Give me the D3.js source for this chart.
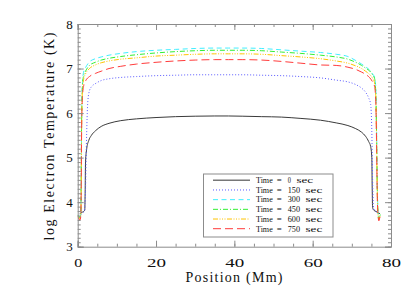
<!DOCTYPE html>
<html><head><meta charset="utf-8">
<script src="https://cdn.jsdelivr.net/npm/d3@7"></script>
<style>html,body{margin:0;padding:0;background:#fff;}svg{display:block;}</style>
</head><body>
<script>
// ---- data ----
const seriesLabels = ["0", "150", "300", "450", "600", "750"];
const xTicks = [0, 20, 40, 60, 80];
const yTicks = [3, 4, 5, 6, 7, 8];

const pos0 = [0.5,1.0,1.5,1.8,1.9,2.0,2.3,2.8,3.5,4.5,6,8,11,15,20,25,30,35,38.5,42,47,52,57,62,66,69,71,72.5,73.5,74.3,74.8,75.1,75.2,75.3,75.6,76.2,76.8,77.2];
const temp0 = [3.74,3.77,3.79,3.82,4.2,4.9,5.2,5.38,5.5,5.6,5.7,5.77,5.83,5.87,5.9,5.92,5.93,5.935,5.935,5.93,5.92,5.91,5.88,5.84,5.78,5.72,5.65,5.57,5.48,5.36,5.25,5.0,4.3,3.88,3.82,3.79,3.76,3.74];

const pos150 = [0.8,1.3,1.7,2.0,2.2,2.4,2.6,3.0,3.6,4.5,6,8,11,15,20,25,30,35,38.5,42,47,52,57,62,66,69,71,72.5,73.5,74.3,74.8,75.1,75.3,75.6,76.2,76.8];
const temp150 = [3.72,3.76,3.8,4.3,5.2,5.9,6.28,6.5,6.6,6.66,6.73,6.77,6.8,6.82,6.84,6.85,6.86,6.86,6.86,6.86,6.85,6.84,6.82,6.79,6.74,6.7,6.64,6.56,6.47,6.34,6.2,5.6,4.5,3.85,3.78,3.74];

const posHot = [0,0.35,0.6,0.8,0.9,1.0,1.2,1.5,2,3,4.5,6,8,11,15,20,25,30,35,38.5,42,47,52,57,62,66,69,71,72.5,73.5,74.5,75.3,75.8,76.1,76.3,76.5,76.7,76.9,77.1,77.3];
const temp300 = [3.72,3.68,3.67,3.75,4.5,5.8,6.65,6.92,7.02,7.15,7.22,7.26,7.3,7.34,7.38,7.41,7.43,7.45,7.46,7.46,7.46,7.45,7.42,7.39,7.36,7.32,7.27,7.18,7.1,7.04,6.97,6.88,6.8,6.6,5.8,4.4,3.78,3.63,3.68,3.73];
const temp450 = [3.71,3.67,3.65,3.74,4.5,5.8,6.58,6.84,6.94,7.07,7.14,7.19,7.23,7.27,7.31,7.35,7.38,7.4,7.41,7.41,7.41,7.4,7.37,7.34,7.3,7.26,7.21,7.14,7.07,7.01,6.95,6.86,6.78,6.5,5.6,4.3,3.74,3.62,3.67,3.72];
const temp600 = [3.7,3.65,3.63,3.72,4.4,5.7,6.5,6.75,6.88,7.0,7.08,7.13,7.17,7.21,7.24,7.28,7.3,7.32,7.33,7.33,7.33,7.32,7.29,7.26,7.22,7.17,7.12,7.06,7.0,6.94,6.87,6.78,6.68,6.4,5.5,4.2,3.72,3.6,3.66,3.72];
const temp750 = [3.68,3.62,3.6,3.7,4.3,5.6,6.35,6.6,6.72,6.82,6.89,6.94,7.0,7.05,7.1,7.14,7.17,7.19,7.2,7.2,7.2,7.19,7.16,7.12,7.08,7.07,7.03,6.98,6.92,6.87,6.8,6.7,6.6,6.3,5.4,4.1,3.7,3.58,3.64,3.7];

const series = [
  {label: seriesLabels[0], x: pos0,   y: temp0,   color: "#3a3a3a", dash: null},
  {label: seriesLabels[1], x: pos150, y: temp150, color: "#5a5aff", dash: "1,2"},
  {label: seriesLabels[2], x: posHot, y: temp300, color: "#40eeff", dash: "5,3.5"},
  {label: seriesLabels[3], x: posHot, y: temp450, color: "#33ee33", dash: "5,2,1,2"},
  {label: seriesLabels[4], x: posHot, y: temp600, color: "#ffc400", dash: "5,1.5,1,1.5,1,1.5,1,1.5"},
  {label: seriesLabels[5], x: posHot, y: temp750, color: "#ff3c3c", dash: "8,4"}
];

// ---- layout ----
const W = 415, H = 297;
const L = 77.7, R = 391, T = 24, B = 246.7;
const axisColor = "#8c8c8c";
const font = "Liberation Serif, serif";
const svg = d3.select("body").append("svg").attr("width", W).attr("height", H);

const x = d3.scaleLinear().domain([0, 80]).range([L, R]);
const y = d3.scaleLinear().domain([3, 8]).range([B, T]);

const line = d3.line().x(d => x(d[0])).y(d => y(d[1])).curve(d3.curveMonotoneX);

svg.append("clipPath").attr("id", "clip").append("rect")
  .attr("x", L).attr("y", T).attr("width", R - L).attr("height", B - T);

series.forEach(s => {
  const pts = s.x.map((v, i) => [v, s.y[i]]);
  svg.append("path").datum(pts)
    .attr("d", line)
    .attr("fill", "none")
    .attr("stroke", s.color)
    .attr("stroke-width", 1)
    .attr("stroke-dasharray", s.dash)
    .attr("clip-path", "url(#clip)");
});

// ---- axes (IDL-style box, inward ticks) ----
const minorX = d3.range(0, 80.01, 5);
const minorY = d3.range(3, 8.001, 0.1);
const major = 6, minor = 3;
const mk = (o, s) => o === "bottom" ? d3.axisBottom(s) : o === "top" ? d3.axisTop(s) :
                     o === "left" ? d3.axisLeft(s) : d3.axisRight(s);

function drawAxis(g, scale, orient, minors, majors, label, pad) {
  g.append("g").call(mk(orient, scale).tickValues(minors).tickSize(-minor).tickFormat(""))
    .call(a => { a.select(".domain").remove(); a.selectAll("line").attr("stroke", axisColor); });
  g.append("g").call(mk(orient, scale).tickValues(majors).tickSize(-major).tickPadding(pad)
      .tickFormat(label ? d3.format("d") : ""))
    .call(a => {
      a.select(".domain").attr("stroke", axisColor);
      a.selectAll("line").attr("stroke", axisColor);
      a.selectAll("text").attr("font-family", font).attr("font-size", 12.5).attr("fill", "#111");
    });
}
const gx = svg.append("g").attr("transform", `translate(0,${B})`);
drawAxis(gx, x, "bottom", minorX, xTicks, true, 11);
gx.selectAll("text").each(function(){
  const n = this.textContent.length;
  d3.select(this).attr("textLength", n === 1 ? 8 : 19).attr("lengthAdjust", "spacingAndGlyphs");
});
drawAxis(svg.append("g").attr("transform", `translate(0,${T})`), x, "top", minorX, xTicks, false, 0);
const gy = svg.append("g").attr("transform", `translate(${L},0)`);
drawAxis(gy, y, "left", minorY, yTicks, true, 5);
gy.selectAll("text").attr("textLength", 6.5).attr("lengthAdjust", "spacingAndGlyphs");
drawAxis(svg.append("g").attr("transform", `translate(${R},0)`), y, "right", minorY, yTicks, false, 0);

// ---- titles ----
svg.append("text").attr("x", 234).attr("y", 282)
  .attr("text-anchor", "middle").attr("font-family", font)
  .attr("font-size", 14).attr("fill", "#111")
  .attr("textLength", 97).attr("lengthAdjust", "spacing")
  .text("Position (Mm)");
svg.append("text").attr("transform", "translate(54,136.5) rotate(-90)")
  .attr("text-anchor", "middle").attr("font-family", font)
  .attr("font-size", 14).attr("fill", "#111")
  .attr("textLength", 208).attr("lengthAdjust", "spacing")
  .text("log Electron Temperature (K)");

// ---- legend ----
const lg = svg.append("g");
lg.append("rect").attr("x", 203.5).attr("y", 174).attr("width", 129.5).attr("height", 63)
  .attr("fill", "#fff").attr("stroke", axisColor).attr("stroke-width", 1);
series.forEach((s, i) => {
  const yy = 180.3 + i * 9.68;
  const base = yy + 2.8;
  lg.append("line").attr("x1", 213).attr("x2", 250).attr("y1", yy).attr("y2", yy)
    .attr("stroke", i === 0 ? "#777" : s.color).attr("stroke-width", i === 0 ? 1.6 : 1)
    .attr("stroke-dasharray", s.dash);
  const txt = (tx, str, len) => lg.append("text").attr("x", tx).attr("y", base)
    .attr("font-family", font).attr("font-size", 8.5).attr("fill", "#111")
    .attr("textLength", len).attr("lengthAdjust", "spacingAndGlyphs").text(str);
  txt(256, "Time", 16.7);
  txt(276.7, "=", 5);
  const vl = s.label.length === 1 ? 3.2 : 12.3;
  txt(287.7, s.label, vl);
  txt(287.7 + vl + 5.5, "sec", 16.7);
});
</script>
</body></html>
